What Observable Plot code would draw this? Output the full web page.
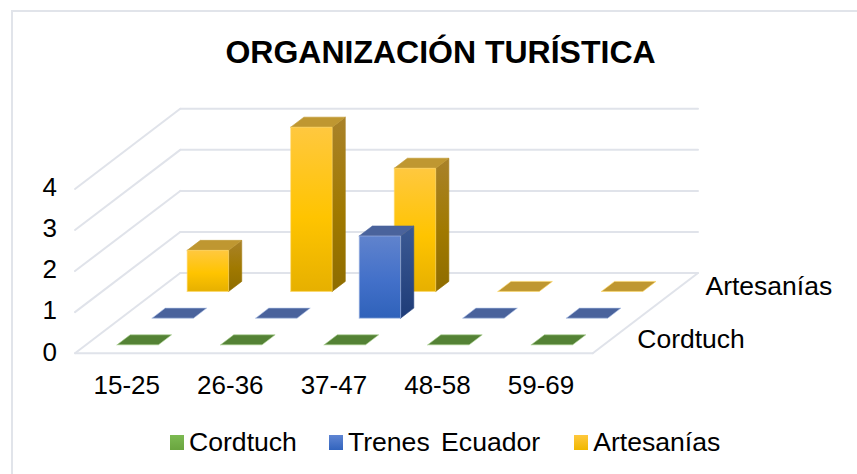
<!DOCTYPE html>
<html>
<head>
<meta charset="utf-8">
<script src="https://cdn.jsdelivr.net/npm/d3@7"></script>
<script src="https://cdn.jsdelivr.net/npm/@observablehq/plot@0.6"></script>
<style>
  html, body { margin: 0; padding: 0; background: #fff; }
  body { width: 857px; height: 474px; overflow: hidden; position: relative; font-family: "Liberation Sans", Arial, sans-serif; color: #000; }
  #frame { position: absolute; left: 11px; top: 10px; right: 0; bottom: 0; border-left: 2px solid #e1e4ea; border-top: 2px solid #e1e4ea; }
  #title { position: relative; height: 90px; box-sizing: border-box; padding-top: 30px; padding-left: 24px; text-align: center; font-size: 32px; font-weight: bold; line-height: 44px; }
  #chart { position: relative; height: 330px; }
  #chart svg { display: block; }
  #legend { position: relative; height: 54px; display: flex; justify-content: flex-start; padding-left: 170px; box-sizing: border-box; align-items: flex-start; font-size: 26.6px; line-height: 44px; word-spacing: 4px; }
  #legend .item { display: flex; align-items: center; margin-right: 32px; }
  #legend .item:nth-child(2) { margin-right: 34px; }
  #legend .sw { width: 14px; height: 15px; margin-right: 5px; }
</style>
</head>
<body>
<div id="frame"></div>
<div id="title"></div>
<div id="chart"></div>
<div id="legend"></div>
<script>
const titleText = "ORGANIZACIÓN TURÍSTICA";
const categories = ["15-25", "26-36", "37-47", "48-58", "59-69"];
const seriesNames = ["Cordtuch", "Trenes Ecuador", "Artesanías"];
const cordtuch = [0, 0, 0, 0, 0];
const trenes = [0, 0, 2, 0, 0];
const artesanias = [1, 4, 3, 0, 0];
const valueTicks = [0, 1, 2, 3, 4];
const depthLabels = ["Cordtuch", "Artesanías"];

const seriesValues = [cordtuch, trenes, artesanias];
const faceColors = [
  {front: "url(#g0)", side: "url(#s0)", top: "#548235", edge: "#a9d18e", css: "linear-gradient(#7cba52,#6aa53f)"},
  {front: "url(#g1)", side: "url(#s1)", top: "#4a639c", edge: "#a8bce6", css: "linear-gradient(#5f85d3,#3264bd)"},
  {front: "url(#g2)", side: "url(#s2)", top: "#bf9731", edge: "#ffd966", css: "linear-gradient(#ffc83d,#f0b800)"}
];

// Oblique projection of (category, series depth, value) to the chart plane
const depthX = 35 / 103.33;
const depthY = 26.67 / 41;
const nCat = categories.length, nSer = seriesNames.length;
const px = (c, d) => c + d * depthX;
const py = (d, v) => v + d * depthY;
const P = (c, d, v) => ({x: px(c, d), y: py(d, v)});

// Gridlines
const maxV = d3.max(valueTicks);
const grid = [];
valueTicks.forEach(v => {
  grid.push({id: "b" + v, ...P(0, nSer, v)}, {id: "b" + v, ...P(nCat, nSer, v)});
  grid.push({id: "l" + v, ...P(0, 0, v)}, {id: "l" + v, ...P(0, nSer, v)});
});
grid.push({id: "f", ...P(0, 0, 0)}, {id: "f", ...P(nCat, 0, 0)});
grid.push({id: "r", ...P(nCat, 0, 0)}, {id: "r", ...P(nCat, nSer, 0)});

// Bar faces, back to front
const faces = [];
function addFace(id, pts, fill, edge) {
  [...pts, pts[0]].forEach(p => faces.push({id, x: p.x, y: p.y, fill, edge}));
}
for (let s = nSer - 1; s >= 0; s--) {
  seriesValues[s].forEach((v, c) => {
    const x0 = c + 0.3, x1 = c + 0.7, d0 = s + 0.3125, d1 = s + 0.6875;
    const col = faceColors[s];
    const k = `${s}-${c}`;
    if (v > 0) {
      addFace("side" + k, [P(x1, d0, 0), P(x1, d1, 0), P(x1, d1, v), P(x1, d0, v)], col.side, col.side);
    }
    addFace("top" + k, [P(x0, d0, v), P(x1, d0, v), P(x1, d1, v), P(x0, d1, v)], col.top, v > 0 ? col.top : col.edge);
    if (v > 0) {
      addFace("front" + k, [P(x0, d0, 0), P(x1, d0, 0), P(x1, d0, v), P(x0, d0, v)], col.front, col.edge);
    }
  });
}

function gradient(id, stops) {
  return `<linearGradient id="${id}" x1="0" y1="0" x2="0" y2="1">` +
    stops.map(([o, c]) => `<stop offset="${o}" stop-color="${c}"/>`).join("") + `</linearGradient>`;
}
const defsMark = () => {
  const g = document.createElementNS("http://www.w3.org/2000/svg", "defs");
  g.innerHTML =
    gradient("g0", [[0, "#7cba52"], [1, "#6aa53f"]]) +
    gradient("s0", [[0, "#4f7a32"], [1, "#3f6428"]]) +
    gradient("g1", [[0, "#6083cd"], [0.55, "#4270c9"], [1, "#2f62ba"]]) +
    gradient("s1", [[0, "#3c5a94"], [1, "#1e3c78"]]) +
    gradient("g2", [[0, "#ffc83f"], [0.55, "#ffc400"], [1, "#e6b000"]]) +
    gradient("s2", [[0, "#a9822a"], [0.55, "#a07900"], [1, "#8e6c00"]]);
  return g;
};

const depthLabelData = depthLabels.map(name => {
  const s = seriesNames.indexOf(name);
  return {name, ...P(nCat, s + 0.5, 0)};
});

const plot = Plot.plot({
  width: 857,
  height: 330,
  marginLeft: 74.5,
  marginRight: 159.5,
  marginTop: 18.3,
  marginBottom: 67.3,
  style: {background: "transparent", fontFamily: "'Liberation Sans', Arial, sans-serif", overflow: "visible"},
  x: {domain: [0, px(nCat, nSer)], axis: null},
  y: {domain: [0, py(nSer, maxV)], axis: null},
  color: {type: "identity"},
  marks: [
    defsMark,
    Plot.line(grid, {x: "x", y: "y", z: "id", stroke: "#e0e3ea", strokeWidth: 2}),
    Plot.line(faces, {x: "x", y: "y", z: "id", fill: "fill", stroke: "edge", strokeWidth: 1, strokeOpacity: 0.6, curve: "linear"}),
    Plot.axisX({
      anchor: "bottom",
      ticks: categories.map((_, i) => i + 0.5),
      tickFormat: d => categories[Math.floor(d)],
      tickSize: 0, tickPadding: 22, fontSize: 26, label: null
    }),
    Plot.axisY({
      anchor: "left",
      ticks: valueTicks,
      tickFormat: d => String(d),
      tickSize: 0, tickPadding: 18, dy: -1, fontSize: 26, label: null
    }),
    Plot.text(depthLabelData.slice(0, 1), {x: "x", y: "y", text: "name", textAnchor: "start", dx: 27, fontSize: 26.5, lineAnchor: "middle", fill: "#000"}),
    Plot.text(depthLabelData.slice(1), {x: "x", y: "y", text: "name", textAnchor: "start", dx: 25, fontSize: 26.5, lineAnchor: "middle", fill: "#000"})
  ]
});
document.getElementById("chart").appendChild(plot);
document.getElementById("title").textContent = titleText;
const legend = document.getElementById("legend");
seriesNames.forEach((name, i) => {
  const item = document.createElement("div");
  item.className = "item";
  const sw = document.createElement("span");
  sw.className = "sw";
  sw.style.background = faceColors[i].css;
  const t = document.createElement("span");
  t.textContent = name;
  item.append(sw, t);
  legend.appendChild(item);
});
</script>
</body>
</html>
